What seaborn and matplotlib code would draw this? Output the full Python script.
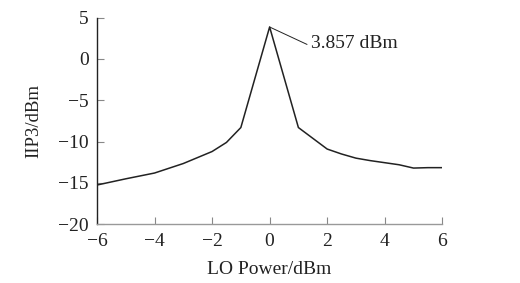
import matplotlib
matplotlib.use("Agg")
import matplotlib.pyplot as plt
import seaborn as sns
import pandas as pd

lo_power = [-6, -5, -4, -3, -2, -1.5, -1, 0, 1, 1.5, 2, 2.5, 3, 3.5, 4, 4.5, 5, 5.5, 6]
iip3 = [-15.25, -14.5, -13.8, -12.65, -11.2, -10.1, -8.3, 3.857, -8.3, -9.6, -10.9, -11.5, -12.0, -12.3, -12.55, -12.8, -13.2, -13.15, -13.15]
x_ticks = [-6, -4, -2, 0, 2, 4, 6]
y_ticks = [-20, -15, -10, -5, 0, 5]
peak_label = "3.857 dBm"

df = pd.DataFrame({"LO Power/dBm": lo_power, "IIP3/dBm": iip3})

sns.set_theme(style="ticks")
plt.rcParams["font.family"] = ["Liberation Serif", "DejaVu Serif"]

fig = plt.figure(figsize=(5.2, 2.83), dpi=100)
ax = fig.add_axes([0.1865, 0.2074, 0.664, 0.7306])
sns.lineplot(data=df, x="LO Power/dBm", y="IIP3/dBm", ax=ax, color="#222222", linewidth=1.1)

ax.set_xlim(-6, 6)
ax.set_ylim(-20, 5)
ax.set_xticks(x_ticks)
ax.set_yticks(y_ticks)
ax.set_xticklabels(["\u2212" + str(-t) if t < 0 else str(t) for t in x_ticks])
ax.set_yticklabels(["\u2212" + str(-t) if t < 0 else str(t) for t in y_ticks])
ax.tick_params(axis="both", direction="in", length=5, width=0.8, colors="#888888",
               labelsize=14, labelcolor="#222222", pad=6)
ax.set_xlabel("LO Power/dBm", fontsize=14, color="#222222", labelpad=8)
ax.set_ylabel("IIP3/dBm", fontsize=13.5, color="#222222", labelpad=11)
for s in ["top", "right"]:
    ax.spines[s].set_visible(False)
ax.spines["left"].set_color("#222222")
ax.spines["left"].set_linewidth(1.0)
ax.spines["bottom"].set_color("#999999")
ax.spines["bottom"].set_linewidth(1.0)

ax.plot([lo_power[7], 1.3], [iip3[7], 1.75], color="#222222", linewidth=0.7)
ax.text(1.45, 1.9, peak_label, fontsize=14, color="#222222", va="center", ha="left")

fig.savefig("out.png", dpi=100)
